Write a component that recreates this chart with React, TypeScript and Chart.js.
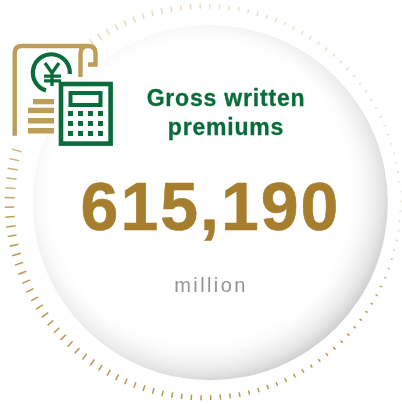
import React, { useEffect, useRef } from "react";
import { Chart, registerables } from "chart.js";

Chart.register(...registerables);

const TITLE_LINES = ["Gross written", "premiums"];
const VALUE_TEXT = "615,190";
const UNIT_TEXT = "million";

const N = null;
// Tick lengths read clockwise from the top of the ring (gap behind the icon = null).
const tickLengths: (number | null)[] = [
  5, 5, 5, 4.5, 4.5, 4.5, 4.5, 4.5, 4, 4, 4, 4, 4, 4, 3.5, 3.5,
  3.5, 3.5, 3, 3, 3, 3, 2.5, 2.5, 2.5, 2, 2, 2, 2, 1.5, 1.5, 1.5,
  1.5, 1.5, 1.5, 1.5, 2, 2, 2, 2, 2.5, 2.5, 2.5, 2.5, 3, 3, 3, 3,
  3.5, 3.5, 3.5, 3.5, 4, 4, 4, 4, 4.5, 4.5, 4.5, 4.5, 5, 5, 5, 5,
  5.5, 5.5, 5.5, 5.5, 6, 6, 6, 6, 6.5, 6.5, 6.5, 7, 7, 7, 7.5, 7.5,
  7.5, 7.5, 8, 8, 8, 8, 8.5, 8.5, 8.5, 9, 9, 9, 9.5, 9.5, 9.5, 10, 10.5, 10.5, 10.5, 10, 10,
  N, N, N, N, N, N, N, N, N, N, N, N, N,
  7, 7, 7, 6.5, 6.5, 6.5, 6, 6, 6, 5.5, 5.5, 5.5, 5,
];
const tickAlphas: number[] = [
  .3, .3, .3, .3, .3, .3, .3, .3, .3, .3, .3, .3, .3, .3, .3, .3,
  .3, .3, .3, .3, .3, .3, .3, .3, .3, .3, .3, .3, .35, .35, .35, .35,
  .4, .4, .45, .5, .55, .6, .7, .75, .8, .85, .9, 1, 1, 1, 1, 1,
  1, 1, 1, 1, 1, 1, 1, 1, 1, 1, 1, 1, 1, 1, 1, 1,
  1, 1, 1, 1, 1, 1, 1, 1, 1, 1, 1, 1, 1, 1, 1, 1,
  1, 1, 1, 1, 1, 1, 1, 1, 1, 1, 1, .95, .95, .95, .9, .85, .7, .75, .75, .75, .7,
  0, 0, 0, 0, 0, 0, 0, 0, 0, 0, 0, 0, 0,
  .35, .35, .35, .35, .35, .35, .35, .35, .35, .35, .35, .35, .35,
];
const tickLabels = tickLengths.map((_, i) => String(i));

const RING_OUTER = 198.3;
const TICK_STEP = 360 / tickLengths.length;
const TICK_START = 2;
const GOLD = "#BC9E58";
const GREEN = "#0A6B3B";

const discPlugin = {
  id: "disc",
  beforeDatasetsDraw(chart: Chart) {
    const ctx = chart.ctx;
    const cx = 210.3, cy = 202.7, r = 177.5;
    const gx = 200, gy = 192;
    const r0 = 150, r1 = 192;
    const g = ctx.createRadialGradient(gx, gy, r0, gx, gy, r1);
    g.addColorStop(0, "#ffffff");
    g.addColorStop((160 - r0) / (r1 - r0), "#fcfcfc");
    g.addColorStop((167 - r0) / (r1 - r0), "#f6f6f6");
    g.addColorStop((175 - r0) / (r1 - r0), "#eeeeee");
    g.addColorStop((183 - r0) / (r1 - r0), "#e3e3e3");
    g.addColorStop(1, "#cfcfcf");
    ctx.save();
    ctx.beginPath();
    ctx.arc(cx, cy, r, 0, Math.PI * 2);
    ctx.fillStyle = g;
    ctx.fill();
    ctx.restore();
  },
};

const textBase: React.CSSProperties = {
  position: "absolute",
  whiteSpace: "nowrap",
  textAlign: "center",
  fontFamily: '"Liberation Sans", Arial, sans-serif',
};

function Icon() {
  const rows = [111, 121, 131];
  const cols = [68, 78, 88, 98];
  return (
    <svg width={402} height={404} style={{ position: "absolute", left: 0, top: 0 }}>
      <path
        d="M14.7 135.7 V53 Q14.7 46 22 46 H88 Q95.5 46 95.5 53 V64.5 H88 M80.5 77 V54 Q80.5 46 88 46"
        fill="none" stroke={GOLD} strokeWidth={4.4}
      />
      <rect x={33} y={99} width={21} height={5.3} fill={GOLD} />
      <rect x={28} y={107.7} width={26} height={5.5} fill={GOLD} />
      <rect x={28} y={118} width={26} height={5.5} fill={GOLD} />
      <rect x={28} y={128} width={26} height={5.5} fill={GOLD} />
      <path d="M69.8 74 A18.5 18.5 0 1 0 46 90.5" fill="none" stroke={GREEN} strokeWidth={4.2} />
      <path d="M45 63 L52 73 L59 63 M52 73 V86 M44 76.2 H61 M44 80.8 H61" fill="none" stroke={GREEN} strokeWidth={3.3} />
      <rect x={61} y={84} width={49.6} height={59.6} fill="#ffffff" stroke={GREEN} strokeWidth={4.6} />
      <rect x={70.5} y={93} width={30} height={12} fill="none" stroke={GREEN} strokeWidth={4} />
      {rows.map((y) =>
        cols.map((x) => <rect key={`${x}-${y}`} x={x} y={y} width={5} height={5} fill={GREEN} />)
      )}
    </svg>
  );
}

export default function App() {
  const ref = useRef<HTMLCanvasElement | null>(null);
  useEffect(() => {
    document.body.style.margin = "0";
    const chart = new Chart(ref.current as HTMLCanvasElement, {
      type: "radar",
      plugins: [discPlugin],
      data: {
        labels: tickLabels,
        datasets: [
          {
            data: tickLengths.map((l) => (l === null ? null : RING_OUTER - l / 2)),
            showLine: false,
            fill: false,
            borderWidth: 0,
            backgroundColor: "rgba(0,0,0,0)",
            borderColor: "rgba(0,0,0,0)",
            pointStyle: "line",
            pointRadius: tickLengths.map((l) => (l === null ? 0 : l / 2)),
            pointRotation: tickLengths.map((_, i) => TICK_START + i * TICK_STEP - 90),
            pointBackgroundColor: "rgba(0,0,0,0)",
            pointBorderColor: tickAlphas.map((a) => `rgba(185,152,78,${a})`),
            pointBorderWidth: 1.5,
          } as any,
        ],
      },
      options: {
        responsive: false,
        animation: false,
        devicePixelRatio: 1,
        layout: { padding: { left: 4, right: 0, top: 1, bottom: 0 } },
        plugins: { legend: { display: false }, tooltip: { enabled: false }, title: { display: false }, filler: { propagate: false } },
        scales: {
          r: {
            min: 0,
            max: 199,
            startAngle: TICK_START,
            grid: { display: false },
            angleLines: { display: false },
            ticks: { display: false },
            pointLabels: { display: false },
          },
        },
      } as any,
    });
    return () => chart.destroy();
  }, []);

  return (
    <div style={{ position: "relative", width: 402, height: 404, overflow: "hidden", background: "#fff" }}>
      <canvas ref={ref} width={402} height={404} style={{ position: "absolute", left: 0, top: 0 }} />
      <Icon />
      {TITLE_LINES.map((t, i) => (
        <div
          key={t}
          style={{
            ...textBase,
            left: 126,
            width: 200,
            top: 84 + i * 29,
            fontSize: 23,
            lineHeight: "28px",
            fontWeight: 700,
            letterSpacing: 0.8,
            WebkitTextStroke: "0.3px #0A6B3B",
            color: GREEN,
          }}
        >
          {t}
        </div>
      ))}
      <div
        style={{
          ...textBase,
          left: 60,
          width: 301,
          top: 166,
          fontSize: 68,
          lineHeight: "80px",
          fontWeight: 700,
          letterSpacing: 2,
          WebkitTextStroke: "0.6px #A67E2D",
          color: "#A67E2D",
        }}
      >
        {VALUE_TEXT}
      </div>
      <div
        style={{
          ...textBase,
          left: 111,
          width: 200,
          top: 273,
          fontSize: 20,
          lineHeight: "24px",
          fontWeight: 400,
          letterSpacing: 2.4,
          color: "#939393",
        }}
      >
        {UNIT_TEXT}
      </div>
    </div>
  );
}
